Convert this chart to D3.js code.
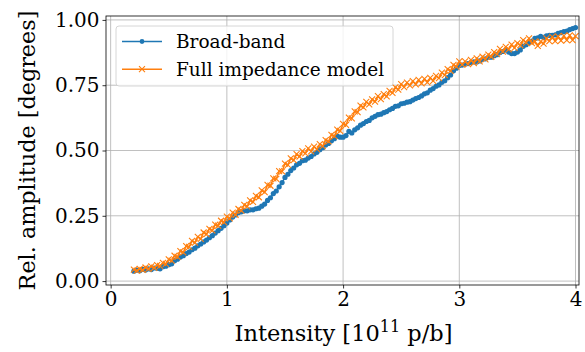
<!DOCTYPE html>
<html>
<head>
<meta charset="utf-8">
<script src="https://cdn.jsdelivr.net/npm/d3@7"></script>
<style>
  body { margin: 0; background: #fff; }
  text { font-family: "DejaVu Serif", serif; fill: #000; }
</style>
</head>
<body>
<svg id="chart" width="585" height="352"></svg>
<script>

// intensity samples [1e11 p/b], 0.2 .. 4.0 every 0.025
var intensity = d3.range(0, 153).map(function(i){ return +(0.2 + i*0.025).toFixed(3) })

var broadBand = [
  0.038,0.042,0.040,0.045,0.042,0.047,0.044,0.050,0.049,0.047,
  0.055,0.057,0.063,0.066,0.078,0.084,0.092,0.097,0.105,0.111,
  0.120,0.126,0.135,0.142,0.150,0.157,0.166,0.174,0.184,0.193,
  0.202,0.212,0.222,0.234,0.245,0.253,0.263,0.265,0.269,0.269,
  0.273,0.273,0.277,0.279,0.287,0.295,0.309,0.319,0.335,0.345,
  0.361,0.377,0.397,0.409,0.423,0.433,0.445,0.451,0.461,0.463,
  0.471,0.477,0.487,0.493,0.503,0.511,0.521,0.527,0.537,0.545,
  0.555,0.551,0.551,0.557,0.573,0.567,0.579,0.587,0.597,0.603,
  0.611,0.615,0.625,0.631,0.637,0.639,0.645,0.649,0.656,0.661,
  0.669,0.671,0.679,0.681,0.685,0.687,0.693,0.699,0.703,0.709,
  0.717,0.721,0.731,0.737,0.746,0.751,0.761,0.767,0.779,0.789,
  0.805,0.815,0.825,0.827,0.831,0.833,0.837,0.839,0.839,0.843,
  0.849,0.851,0.857,0.857,0.863,0.867,0.875,0.879,0.885,0.877,
  0.871,0.871,0.877,0.885,0.899,0.905,0.913,0.919,0.929,0.931,
  0.937,0.933,0.939,0.941,0.941,0.943,0.949,0.951,0.955,0.957,
  0.963,0.967,0.971
]

var fullModel = [
  0.044,0.040,0.047,0.043,0.052,0.047,0.056,0.051,0.061,0.058,
  0.070,0.066,0.083,0.078,0.097,0.093,0.115,0.110,0.134,0.131,
  0.154,0.147,0.169,0.162,0.186,0.180,0.200,0.194,0.216,0.212,
  0.231,0.226,0.247,0.240,0.262,0.254,0.276,0.270,0.292,0.286,
  0.309,0.303,0.326,0.321,0.347,0.341,0.368,0.365,0.393,0.391,
  0.421,0.420,0.450,0.445,0.470,0.463,0.486,0.477,0.498,0.489,
  0.508,0.497,0.515,0.505,0.524,0.517,0.540,0.535,0.560,0.555,
  0.580,0.575,0.602,0.598,0.626,0.623,0.650,0.647,0.672,0.665,
  0.686,0.677,0.696,0.687,0.708,0.697,0.716,0.707,0.728,0.721,
  0.742,0.733,0.754,0.743,0.760,0.749,0.766,0.753,0.770,0.757,
  0.774,0.761,0.778,0.767,0.786,0.777,0.798,0.789,0.812,0.805,
  0.828,0.821,0.841,0.829,0.841,0.831,0.847,0.835,0.853,0.841,
  0.859,0.849,0.867,0.859,0.877,0.869,0.889,0.879,0.897,0.887,
  0.905,0.893,0.911,0.903,0.923,0.913,0.929,0.911,0.917,0.901,
  0.917,0.909,0.929,0.919,0.935,0.919,0.937,0.921,0.939,0.923,
  0.941,0.923,0.938
]

var xTicks = [0, 1, 2, 3, 4]
var yTicks = [0, 0.25, 0.5, 0.75, 1.0]
var legendLabels = ["Broad-band", "Full impedance model"]

var blue = "#1f77b4", orange = "#ff7f0e"

var svg = d3.select("#chart")
var box = { left: 106, right: 579, top: 16, bottom: 285 }

var x = d3.scaleLinear().domain([-0.04, 4.03]).range([box.left, box.right])
var y = d3.scaleLinear().domain([-0.015, 1.015]).range([box.bottom, box.top])

// grid
svg.append("g").selectAll("line").data(xTicks).join("line")
  .attr("x1", d => x(d)).attr("x2", d => x(d))
  .attr("y1", box.top).attr("y2", box.bottom)
  .attr("stroke", "#b0b0b0").attr("stroke-width", 0.8)
svg.append("g").selectAll("line").data(yTicks).join("line")
  .attr("x1", box.left).attr("x2", box.right)
  .attr("y1", d => y(d)).attr("y2", d => y(d))
  .attr("stroke", "#b0b0b0").attr("stroke-width", 0.8)

// axes
svg.append("g").attr("transform", "translate(0," + box.bottom + ")")
  .call(d3.axisBottom(x).tickValues(xTicks).tickFormat(d3.format("d")).tickSizeOuter(0).tickSize(3.5).tickPadding(3))
svg.append("g").attr("transform", "translate(" + box.left + ",0)")
  .call(d3.axisLeft(y).tickValues(yTicks).tickFormat(d3.format(".2f")).tickSizeOuter(0).tickSize(3.5).tickPadding(3))
svg.selectAll(".tick text").attr("font-family", "DejaVu Serif").attr("font-size", 20).attr("fill", "#000")
svg.selectAll(".tick line").attr("stroke", "#000").attr("stroke-width", 0.8)
svg.selectAll(".domain").remove()

// series
var xy = d3.line().x((d, i) => x(intensity[i])).y(d => y(d))

var plot = svg.append("g")
plot.append("path").datum(broadBand).attr("d", xy)
  .attr("fill", "none").attr("stroke", blue).attr("stroke-width", 1.5)
plot.append("g").selectAll("circle").data(broadBand).join("circle")
  .attr("cx", (d, i) => x(intensity[i])).attr("cy", d => y(d)).attr("r", 2.6)
  .attr("fill", blue)

plot.append("path").datum(fullModel).attr("d", xy)
  .attr("fill", "none").attr("stroke", orange).attr("stroke-width", 1.5)
var xm = 3
plot.append("g").selectAll("path").data(fullModel).join("path")
  .attr("d", (d, i) => {
    var cx = x(intensity[i]), cy = y(d)
    return "M" + (cx-xm) + "," + (cy-xm) + "L" + (cx+xm) + "," + (cy+xm) +
           "M" + (cx-xm) + "," + (cy+xm) + "L" + (cx+xm) + "," + (cy-xm)
  })
  .attr("stroke", orange).attr("stroke-width", 1.1).attr("fill", "none")

// frame
svg.append("rect").attr("x", box.left).attr("y", box.top)
  .attr("width", box.right - box.left).attr("height", box.bottom - box.top)
  .attr("fill", "none").attr("stroke", "#000").attr("stroke-width", 0.8)

// legend
var lg = svg.append("g")
lg.append("rect").attr("x", 116).attr("y", 26).attr("width", 277).attr("height", 60)
  .attr("rx", 3).attr("fill", "#fff").attr("fill-opacity", 0.8)
  .attr("stroke", "#cccccc").attr("stroke-width", 0.8)
legendLabels.forEach(function(lab, i) {
  var ly = 41.5 + i * 27.7
  var col = i === 0 ? blue : orange
  lg.append("line").attr("x1", 122).attr("x2", 162).attr("y1", ly).attr("y2", ly)
    .attr("stroke", col).attr("stroke-width", 1.5)
  if (i === 0) {
    lg.append("circle").attr("cx", 142).attr("cy", ly).attr("r", 2.4).attr("fill", col)
  } else {
    lg.append("path").attr("d", "M139," + (ly-3) + "L145," + (ly+3) + "M139," + (ly+3) + "L145," + (ly-3))
      .attr("stroke", col).attr("stroke-width", 1.1)
  }
  lg.append("text").attr("x", 176).attr("y", ly).attr("dy", "0.35em")
    .attr("font-size", 18.5).text(lab)
})

// axis labels
var xl = svg.append("text").attr("x", (box.left + box.right) / 2 + 1).attr("y", 341)
  .attr("text-anchor", "middle").attr("font-size", 22.5)
xl.append("tspan").text("Intensity [10")
xl.append("tspan").attr("font-size", 16).attr("dy", -9).text("11")
xl.append("tspan").attr("dy", 9).text(" p/b]")

svg.append("text").attr("transform", "translate(35," + ((box.top + box.bottom) / 2) + ") rotate(-90)")
  .attr("text-anchor", "middle").attr("font-size", 22.3)
  .text("Rel. amplitude [degrees]")
</script>
</body>
</html>
